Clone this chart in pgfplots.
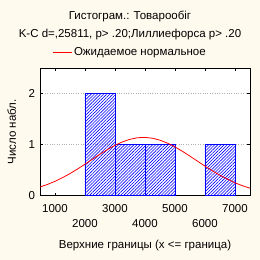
\documentclass[border=0pt]{standalone}
\usepackage{pgfplots}
\pgfplotsset{compat=1.18}
\usetikzlibrary{patterns.meta}
\usepackage{fontspec}
\setmainfont{Liberation Sans}
\definecolor{bgc}{RGB}{255,250,238}
\begin{document}
\fontsize{11.5bp}{13.5bp}\selectfont
\begin{tikzpicture}[x=1bp,y=1bp]
\fill[bgc] (0,0) rectangle (260,260);
\useasboundingbox (0,0) rectangle (260,260);
\node[anchor=center,inner sep=0pt] at (130,243.3) {Гистограм.: Товарообіг};
\node[anchor=center,inner sep=0pt] at (130,225) {K-C d=,25811, p> .20;Лиллиефорса p> .20};
\begin{axis}[
  at={(40bp,64.7bp)}, anchor=south west,
  scale only axis, width=210bp, height=127bp,
  xmin=500, xmax=7500, ymin=0, ymax=2.5,
  axis background/.style={fill=white},
  xtick={1000,3000,5000,7000},
  extra x ticks={2000,4000,6000},
  extra x tick style={tick label style={yshift=-15bp}},
  ytick={0,1,2},
  ymajorgrids,
  grid style={gray!60, dotted, line width=0.8bp},
  tick align=inside, major tick length=2.5bp,
  tick style={black, line width=0.8bp},
  axis line style={black, line width=0.9bp},
  /pgf/number format/assume math mode=true,
  scaled x ticks=false,
  xticklabel style={/pgf/number format/1000 sep={}, yshift=-5bp},
  yticklabel style={xshift=-1bp},
  xlabel={Верхние границы (x <= граница)},
  ylabel={Число набл.},
  xlabel style={at={(axis description cs:0.5,-0.397)}, anchor=center},
  ylabel style={at={(axis description cs:-0.135,0.5)}, anchor=center},
  legend style={draw=none, fill=none, at={(0.4286,1.123)}, anchor=center, font=\fontsize{11.5bp}{13.5bp}\selectfont},
  legend image code/.code={\draw[#1] (0bp,0bp) -- (19bp,0bp);},
]
\addplot[forget plot, ybar interval, draw=blue, line width=0.8bp, pattern={Lines[angle=45,distance=2.2bp,line width=0.6bp]}, pattern color=blue]
  coordinates {(2000,2) (3000,1) (4000,1) (5000,0)};
\addplot[forget plot, ybar interval, draw=blue, line width=0.8bp, pattern={Lines[angle=45,distance=2.2bp,line width=0.6bp]}, pattern color=blue]
  coordinates {(6000,1) (7000,0)};
\addplot[red, line width=0.8bp, no marks] coordinates {
(500,0.163) (750,0.214) (1000,0.275) (1250,0.347) (1500,0.428) (1750,0.517)
(2000,0.613) (2250,0.711) (2500,0.809) (2750,0.901) (3000,0.984) (3250,1.052)
(3500,1.103) (3750,1.133) (4000,1.140) (4250,1.123) (4500,1.085) (4750,1.027)
(5000,0.952) (5250,0.865) (5500,0.770) (5750,0.672) (6000,0.574) (6250,0.481)
(6500,0.394) (6750,0.317) (7000,0.245) (7250,0.188) (7500,0.140)};
\addlegendentry{Ожидаемое нормальное}
\end{axis}
\end{tikzpicture}
\end{document}
